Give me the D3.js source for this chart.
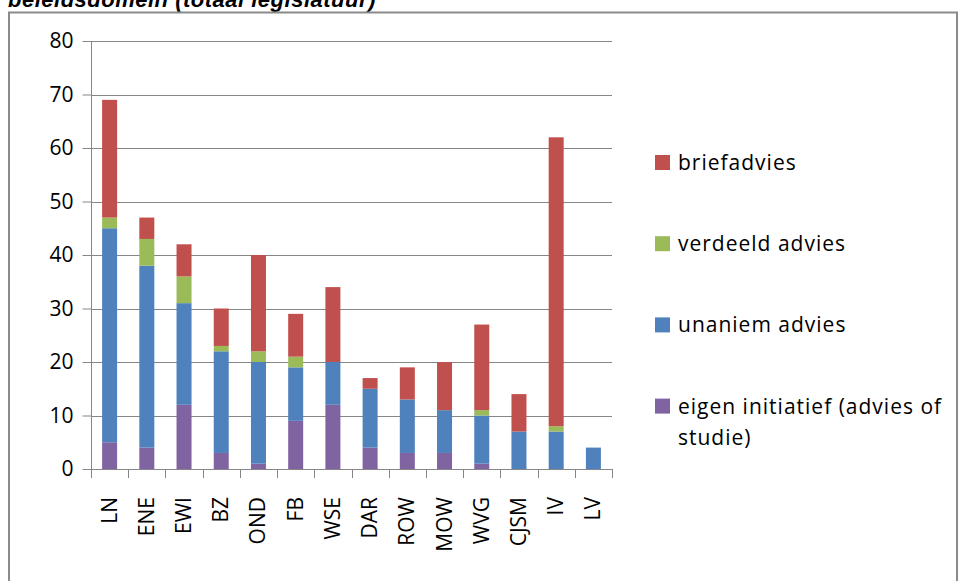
<!DOCTYPE html>
<html>
<head>
<meta charset="utf-8">
<script src="https://cdn.jsdelivr.net/npm/d3@7/dist/d3.min.js"></script>
<style>
  html, body { margin: 0; padding: 0; background: #fff; }
  svg { display: block; }
</style>
</head>
<body>
<svg id="chart" width="960" height="581"></svg>
<script>
const categories = ["LN","ENE","EWI","BZ","OND","FB","WSE","DAR","ROW","MOW","WVG","CJSM","IV","LV"];
const eigenInitiatief = [5, 4, 12, 3, 1, 9, 12, 4, 3, 3, 1, 0, 0, 0];
const unaniemAdvies   = [40, 34, 19, 19, 19, 10, 8, 11, 10, 8, 9, 7, 7, 4];
const verdeeldAdvies  = [2, 5, 5, 1, 2, 2, 0, 0, 0, 0, 1, 0, 1, 0];
const briefAdvies     = [22, 4, 6, 7, 18, 8, 14, 2, 6, 9, 16, 7, 54, 0];
const seriesNames = ["eigen initiatief (advies of studie)", "unaniem advies", "verdeeld advies", "briefadvies"];
const seriesColors = ["#8064A2", "#4F81BD", "#9BBB59", "#C0504D"];
const yTicks = [0, 10, 20, 30, 40, 50, 60, 70, 80];
const titleText = "beleidsdomein (totaal legislatuur)";

const svg = d3.select("#chart");
const font = "'Open Sans', sans-serif";

// Title (clipped at top, as in the reference)
svg.append("text")
  .attr("x", 8).attr("y", 7)
  .attr("font-family", "'Liberation Sans', Arial, sans-serif")
  .attr("font-size", 22).attr("font-style", "italic").attr("font-weight", "bold")
  .attr("letter-spacing", 0.5)
  .attr("fill", "#000")
  .text(titleText);

// Outer border
svg.append("rect")
  .attr("x", 9).attr("y", 12.5).attr("width", 948).attr("height", 600)
  .attr("fill", "none").attr("stroke", "#8a8a8a").attr("stroke-width", 2);

const pLeft = 91, pRight = 612, pTop = 41, pBottom = 469;
const x = d3.scaleBand().domain(categories).range([pLeft, pRight]);
const y = d3.scaleLinear().domain([0, 80]).range([pBottom, pTop]);

// Gridlines
svg.append("g").selectAll("line").data(yTicks.filter(t => t > 0)).join("line")
  .attr("x1", pLeft).attr("x2", pRight)
  .attr("y1", d => Math.round(y(d)) + 0.5).attr("y2", d => Math.round(y(d)) + 0.5)
  .attr("stroke", "#868686").attr("stroke-width", 1);

// Stacked data
const rows = categories.map((c, i) => ({
  cat: c,
  s0: eigenInitiatief[i], s1: unaniemAdvies[i], s2: verdeeldAdvies[i], s3: briefAdvies[i]
}));
const stack = d3.stack().keys(["s0","s1","s2","s3"])(rows);
const bw = 15;
svg.append("g").selectAll("g").data(stack).join("g")
  .attr("fill", (d, i) => seriesColors[i])
  .selectAll("rect").data(d => d).join("rect")
  .attr("x", d => x(d.data.cat) + x.bandwidth() / 2 - bw / 2)
  .attr("width", bw)
  .attr("y", d => y(d[1]))
  .attr("height", d => Math.max(0, y(d[0]) - y(d[1])));

// Y axis
const yAxis = d3.axisLeft(y).tickValues(yTicks).tickSize(9).tickPadding(9);
const gy = svg.append("g").attr("transform", `translate(${pLeft + 0.5},0)`).call(yAxis);
gy.select(".domain").remove();
gy.selectAll(".tick line").attr("stroke", "#868686");
gy.selectAll(".tick text").attr("font-family", font).attr("font-size", 21).attr("fill", "#000");
svg.append("line").attr("x1", pLeft + 0.5).attr("x2", pLeft + 0.5).attr("y1", pTop).attr("y2", pBottom + 9)
  .attr("stroke", "#868686");

// X axis baseline and ticks at band boundaries
svg.append("line").attr("x1", pLeft).attr("x2", pRight).attr("y1", pBottom + 0.5).attr("y2", pBottom + 0.5)
  .attr("stroke", "#868686");
const boundaries = categories.map(c => x(c)).concat([pRight]);
svg.append("g").selectAll("line").data(boundaries).join("line")
  .attr("x1", d => Math.round(d) + 0.5).attr("x2", d => Math.round(d) + 0.5)
  .attr("y1", pBottom).attr("y2", pBottom + 9)
  .attr("stroke", "#868686");

// X labels rotated
svg.append("g").selectAll("text").data(categories).join("text")
  .attr("transform", d => `translate(${x(d) + x.bandwidth() / 2 + 7},497) rotate(-90)`)
  .attr("text-anchor", "end")
  .attr("font-family", font).attr("font-size", 21).attr("fill", "#000")
  .text(d => d);

// Legend
const legendItems = [
  { name: "briefadvies", color: seriesColors[3], lines: ["briefadvies"] },
  { name: "verdeeld advies", color: seriesColors[2], lines: ["verdeeld advies"] },
  { name: "unaniem advies", color: seriesColors[1], lines: ["unaniem advies"] },
  { name: seriesNames[0], color: seriesColors[0], lines: ["eigen initiatief (advies of", "studie)"] }
];
const lg = svg.append("g").selectAll("g").data(legendItems).join("g")
  .attr("transform", (d, i) => `translate(655,${155 + i * 81.2})`);
lg.append("rect").attr("width", 15).attr("height", 15).attr("fill", d => d.color);
lg.each(function(d) {
  const t = d3.select(this).append("text")
    .attr("font-family", font).attr("font-size", 21).attr("letter-spacing", 1).attr("fill", "#000");
  d.lines.forEach((l, j) => {
    t.append("tspan").attr("x", 23).attr("y", 15 + j * 31).text(l);
  });
});
</script>
</body>
</html>
